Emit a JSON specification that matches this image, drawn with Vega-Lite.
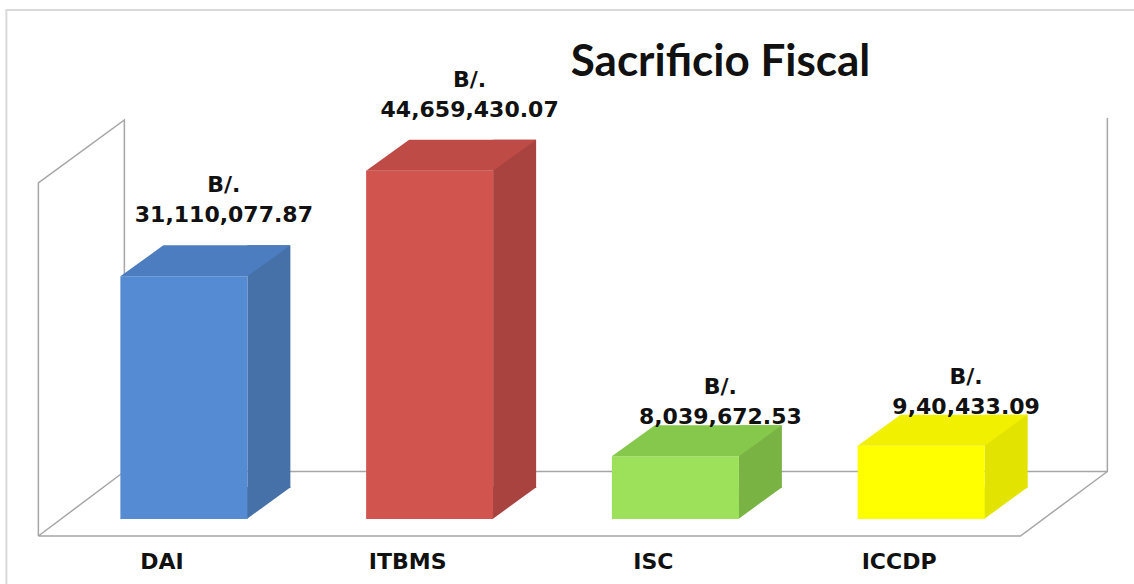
{
  "$schema": "https://vega.github.io/schema/vega-lite/v6.json",
  "width": 983,
  "height": 468,
  "autosize": "none",
  "padding": {"left": 61, "top": 51, "right": 90, "bottom": 65},
  "background": "white",
  "config": {"view": {"stroke": null}},
  "title": {
    "text": "Sacrificio Fiscal",
    "font": "Lato",
    "fontSize": 44,
    "fontWeight": "bold",
    "color": "#111111",
    "anchor": "middle",
    "dx": 168,
    "baseline": "alphabetic",
    "offset": 0,
    "dy": 114
  },
  "data": {
    "values": [
      {"cat": "DAI", "value": 31110077.87, "label": "B/.\n31,110,077.87"},
      {"cat": "ITBMS", "value": 44659430.07, "label": "B/.\n44,659,430.07"},
      {"cat": "ISC", "value": 8039672.53, "label": "B/.\n8,039,672.53"},
      {"cat": "ICCDP", "value": 9400433.09, "label": "B/.\n9,40,433.09"}
    ]
  },
  "encoding": {
    "x": {"field": "cat", "type": "nominal", "sort": null, "scale": {"domain": ["DAI", "ITBMS", "ISC", "ICCDP"], "paddingInner": 0, "paddingOuter": 0}, "axis": {"title": null, "domain": false, "ticks": false, "grid": false, "labelAngle": 0, "labelFont": "DejaVu Sans", "labelFontWeight": "bold", "labelFontSize": 22, "labelColor": "#111111", "labelOffset": -22, "labelBaseline": "alphabetic", "labelPadding": 49}}
  },
  "layer": [
    {
      "transform": [{"filter": "datum.cat == 'DAI'"}],
      "mark": {"type": "point", "shape": "M-177.5,70 L-177.5,-509 L960,-509", "size": 4, "filled": false, "opacity": 1, "strokeWidth": 2, "color": "#D9D9D9"},
      "encoding": {
        "y": {"datum": 0, "type": "quantitative", "scale": {"domain": [0, 60000000]}, "axis": null}
      }
    },
    {
      "transform": [{"filter": "datum.cat == 'DAI'"}],
      "mark": {"type": "point", "shape": "M-145.5,17 L-145.5,-336 L-59.5,-399 L-59.5,-47.5 L923.5,-47.5 L923.5,-401 M-145.5,17 L-59.5,-47.5 M-145.5,17 L836.5,17 L923.5,-47.5", "size": 4, "filled": false, "opacity": 1, "strokeWidth": 1.5, "color": "#A6A6A6"},
      "encoding": {
        "y": {"datum": 0, "type": "quantitative", "axis": null}
      }
    },
    {
      "mark": {"type": "bar", "width": 43, "xOffset": 85, "yOffset": -31},
      "encoding": {
        "y": {"field": "value", "type": "quantitative", "axis": null},
        "color": {"field": "cat", "type": "nominal", "sort": null, "legend": null, "scale": {"domain": ["DAI", "ITBMS", "ISC", "ICCDP"], "range": ["#4571A8", "#A8433F", "#78B344", "#E3E300"]}}
      }
    },
    {
      "mark": {"type": "point", "shape": "M63,0 L63,-32 L107,-32 Z", "size": 4, "filled": true, "opacity": 1, "strokeWidth": 0},
      "encoding": {
        "y": {"datum": 0, "type": "quantitative", "axis": null},
        "color": {"field": "cat", "type": "nominal", "sort": null, "legend": null, "scale": {"domain": ["DAI", "ITBMS", "ISC", "ICCDP"], "range": ["#4571A8", "#A8433F", "#78B344", "#E3E300"]}}
      }
    },
    {
      "mark": {"type": "bar", "width": 127},
      "encoding": {
        "y": {"field": "value", "type": "quantitative", "axis": null},
        "color": {"field": "cat", "type": "nominal", "sort": null, "legend": null, "scale": {"domain": ["DAI", "ITBMS", "ISC", "ICCDP"], "range": ["#558BD2", "#D2544F", "#9DE05A", "#FFFF00"]}}
      }
    },
    {
      "mark": {"type": "point", "shape": "M-63.5,0 L63.5,0 L106.5,-31 L-20.5,-31 Z", "size": 4, "filled": true, "opacity": 1, "strokeWidth": 0},
      "encoding": {
        "y": {"field": "value", "type": "quantitative", "axis": null},
        "color": {"field": "cat", "type": "nominal", "sort": null, "legend": null, "scale": {"domain": ["DAI", "ITBMS", "ISC", "ICCDP"], "range": ["#4C7DC0", "#BF4B47", "#86C84C", "#F0F000"]}}
      }
    },
    {
      "transform": [{"filter": "datum.value > 20000000"}],
      "mark": {"type": "text", "lineBreak": "\n", "align": "center", "baseline": "bottom", "font": "DejaVu Sans", "fontWeight": "bold", "fontSize": 22, "lineHeight": 30, "color": "#111111", "dx": 40, "dy": -79},
      "encoding": {
        "y": {"field": "value", "type": "quantitative", "axis": null},
        "text": {"field": "label"}
      }
    },
    {
      "transform": [{"filter": "datum.value <= 20000000"}],
      "mark": {"type": "text", "lineBreak": "\n", "align": "center", "baseline": "bottom", "font": "DejaVu Sans", "fontWeight": "bold", "fontSize": 22, "lineHeight": 30, "color": "#111111", "dx": 45, "dy": -57},
      "encoding": {
        "y": {"field": "value", "type": "quantitative", "axis": null},
        "text": {"field": "label"}
      }
    }
  ],
  "resolve": {"scale": {"color": "independent"}}
}
